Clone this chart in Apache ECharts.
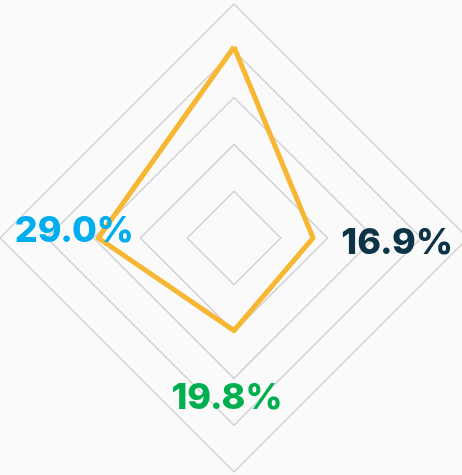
<!DOCTYPE html>
<html>
<head>
<meta charset="utf-8">
<script src="https://cdn.jsdelivr.net/npm/echarts@6/dist/echarts.min.js"></script>
<style>
  html, body { margin: 0; padding: 0; background: #fafafa; }
  #chart { width: 462px; height: 475px; }
</style>
</head>
<body>
<div id="chart"></div>
<script>
// indicator order: top, left, bottom, right (counter-clockwise from top)
const indicators = ['top', 'left', 'bottom', 'right']
const values = [40.8, 29.0, 19.8, 16.9]
const axisMax = 50
// which points get a printed label, and their colours
const labelIndexes = [1, 3, 2]
const labelColors = ['#00aeef', '#0d3446', '#00b04f']
const labelOffsets = [[-24, -7], [84, 5], [-7, 68]]

const chart = echarts.init(document.getElementById('chart'), null, { renderer: 'canvas' })

const labelSeries = labelIndexes.map((idx, i) => ({
  type: 'radar',
  silent: true,
  symbol: 'circle',
  symbolSize: 1,
  itemStyle: { color: 'rgba(0,0,0,0)' },
  lineStyle: { width: 0, opacity: 0 },
  data: [{ value: values }],
  label: {
    show: true,
    position: 'inside',
    offset: labelOffsets[i],
    color: labelColors[i],
    fontFamily: 'Inter',
    fontWeight: 800,
    fontSize: 36,
    formatter: (p) => (p.value === values[idx] ? p.value.toFixed(1) + '%' : ''),
  },
  z: 5,
}))

chart.setOption({
  backgroundColor: '#fafafa',
  animation: false,
  radar: {
    center: ['50.65%', '50.1%'],
    radius: 234,
    startAngle: 90,
    splitNumber: 5,
    shape: 'polygon',
    indicator: indicators.map(() => ({ name: '', min: 0, max: axisMax })),
    axisName: { show: false },
    axisLine: { show: false },
    axisTick: { show: false },
    axisLabel: { show: false },
    splitArea: { show: false },
    splitLine: { lineStyle: { color: '#d2d2d2', width: 1.5 } },
  },
  series: [
    {
      type: 'radar',
      symbol: 'none',
      lineStyle: { color: '#f7b733', width: 5, join: 'round' },
      data: [{ value: values }],
      z: 3,
    },
    ...labelSeries,
  ],
})
</script>
</body>
</html>
